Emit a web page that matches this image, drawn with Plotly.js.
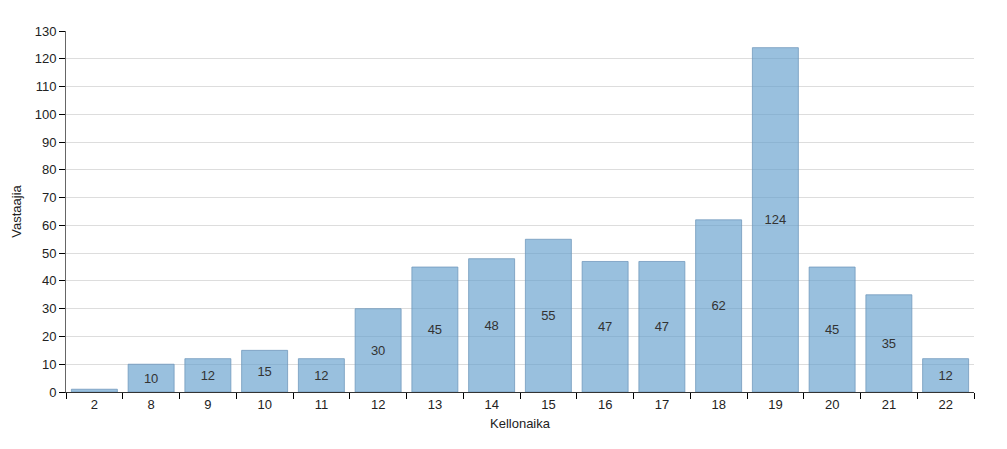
<!DOCTYPE html>
<html>
<head>
<meta charset="utf-8">
<script src="https://cdn.plot.ly/plotly-3.0.1.min.js"></script>
<style>html,body{margin:0;padding:0;background:#fff;}#chart{width:1007px;height:449px;}</style>
</head>
<body>
<div id="chart"></div>
<script>
const categories = ["2","8","9","10","11","12","13","14","15","16","17","18","19","20","21","22"];
const values = [1,10,12,15,12,30,45,48,55,47,47,62,124,45,35,12];
const yTickValues = [0,10,20,30,40,50,60,70,80,90,100,110,120,130];

const trace = {
  type: 'bar',
  x: categories,
  y: values,
  text: values.map(String),
  textposition: 'inside',
  insidetextanchor: 'middle',
  textangle: 0,
  textfont: {family: 'Liberation Sans, Arial, sans-serif', size: 13, color: '#333'},
  marker: {color: 'rgba(100,160,205,0.66)', line: {color: 'rgba(110,150,185,0.75)', width: 1}},
  hoverinfo: 'x+y'
};

const layout = {
  width: 1007, height: 449,
  margin: {l: 66, r: 33, t: 31, b: 57},
  paper_bgcolor: '#fff', plot_bgcolor: '#fff',
  bargap: 0.19,
  showlegend: false,
  uniformtext: {minsize: 12, mode: 'hide'},
  font: {family: 'Liberation Sans, Arial, sans-serif', size: 13, color: '#222'},
  xaxis: {
    type: 'category',
    tickson: 'boundaries',
    ticks: 'outside', ticklen: 6, tickcolor: '#000', tickwidth: 1,
    showline: true, linecolor: '#333', linewidth: 1,
    showgrid: false,
    tickfont: {size: 13, color: '#222'},
    title: {text: 'Kellonaika', font: {size: 13, color: '#222'}, standoff: 8},
    automargin: false
  },
  yaxis: {
    range: [0, 130],
    tickvals: yTickValues,
    ticks: 'outside', ticklen: 6, tickcolor: '#000', tickwidth: 1,
    showline: true, linecolor: '#666', linewidth: 1,
    showgrid: true, gridcolor: '#ddd', gridwidth: 1,
    zeroline: false,
    tickfont: {size: 13, color: '#222'},
    title: {text: 'Vastaajia', font: {size: 13, color: '#222'}, standoff: 10},
    automargin: false
  }
};

Plotly.newPlot('chart', [trace], layout, {displayModeBar: false, staticPlot: true});
</script>
</body>
</html>
